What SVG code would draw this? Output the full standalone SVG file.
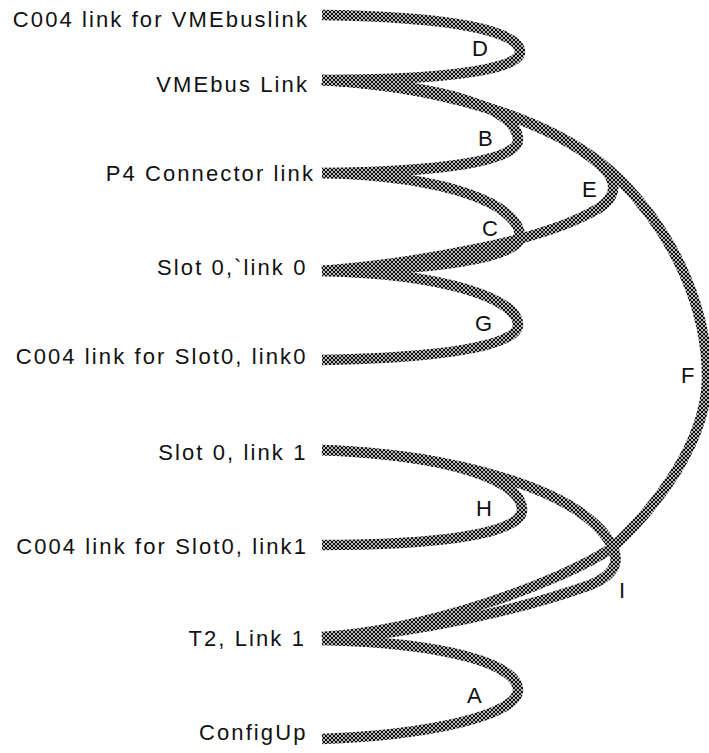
<svg xmlns="http://www.w3.org/2000/svg" width="709" height="753" viewBox="0 0 709 753">
<defs>
<pattern id="ht" width="4" height="4" patternUnits="userSpaceOnUse">
<rect width="4" height="4" fill="#111"/>
<circle cx="0" cy="0" r="0.95" fill="#fff"/>
<circle cx="4" cy="0" r="0.95" fill="#fff"/>
<circle cx="0" cy="4" r="0.95" fill="#fff"/>
<circle cx="4" cy="4" r="0.95" fill="#fff"/>
<circle cx="2" cy="2" r="0.95" fill="#fff"/>
</pattern>
<style>
.lbl{font-family:"Liberation Sans",Arial,sans-serif;font-size:22px;letter-spacing:2.1px;fill:#111;text-anchor:end}
.let{font-family:"Liberation Sans",Arial,sans-serif;font-size:22px;fill:#111}
.c{fill:none;stroke:url(#ht);stroke-width:10.5;stroke-linecap:butt}
</style>
</defs>
<rect width="709" height="753" fill="#fff"/>
<g id="connectors">
<g id="D"><path class="c" d="M322,15 C460,17 520,32 520,52 C520,70 440,80 322,80"/><text class="let" x="472" y="56">D</text></g>
<g id="B"><path class="c" d="M322,80 C450,85 518,110 518,140 C518,162 430,172 322,173"/><text class="let" x="478" y="146">B</text></g>
<g id="E"><path class="c" d="M322,80 C470,88 575,135 607,172 C620,188 612,203 590,213 C540,240 430,262 322,271"/><text class="let" x="582" y="197">E</text></g>
<g id="F"><path class="c" d="M322,80 C470,88 570,130 620,180 C675,235 708,310 707,380 C705,445 655,508 612,548 C560,582 430,630 322,637"/><text class="let" x="681" y="383">F</text></g>
<g id="C"><path class="c" d="M322,173 C450,176 520,205 520,237 C520,258 430,270 322,271"/><text class="let" x="482" y="236">C</text></g>
<g id="G"><path class="c" d="M322,271 C450,274 518,300 518,325 C518,348 430,358 322,360"/><text class="let" x="475" y="331">G</text></g>
<g id="H"><path class="c" d="M322,450 C450,455 522,480 522,510 C522,535 430,545 322,545"/><text class="let" x="476" y="516">H</text></g>
<g id="I"><path class="c" d="M322,450 C460,455 570,490 605,535 C625,560 615,575 590,585 C520,610 420,632 322,640"/><text class="let" x="619" y="598">I</text></g>
<g id="A"><path class="c" d="M322,640 C450,643 518,665 518,690 C518,715 430,735 322,739"/><text class="let" x="467" y="703">A</text></g>
</g>
<g id="n-c004-vme"><text class="lbl" x="309" y="27">C004 link for VMEbuslink</text></g>
<g id="n-vmebus"><text class="lbl" x="309" y="92">VMEbus Link</text></g>
<g id="n-p4"><text class="lbl" x="315" y="181">P4 Connector link</text></g>
<g id="n-slot0-link0"><text class="lbl" x="307.5" y="275">Slot 0,`link 0</text></g>
<g id="n-c004-link0"><text class="lbl" x="307.5" y="364">C004 link for Slot0, link0</text></g>
<g id="n-slot0-link1"><text class="lbl" x="307.5" y="460">Slot 0, link 1</text></g>
<g id="n-c004-link1"><text class="lbl" x="308" y="554">C004 link for Slot0, link1</text></g>
<g id="n-t2"><text class="lbl" x="306" y="646">T2, Link 1</text></g>
<g id="n-configup"><text class="lbl" x="307.5" y="740">ConfigUp</text></g>
</svg>
